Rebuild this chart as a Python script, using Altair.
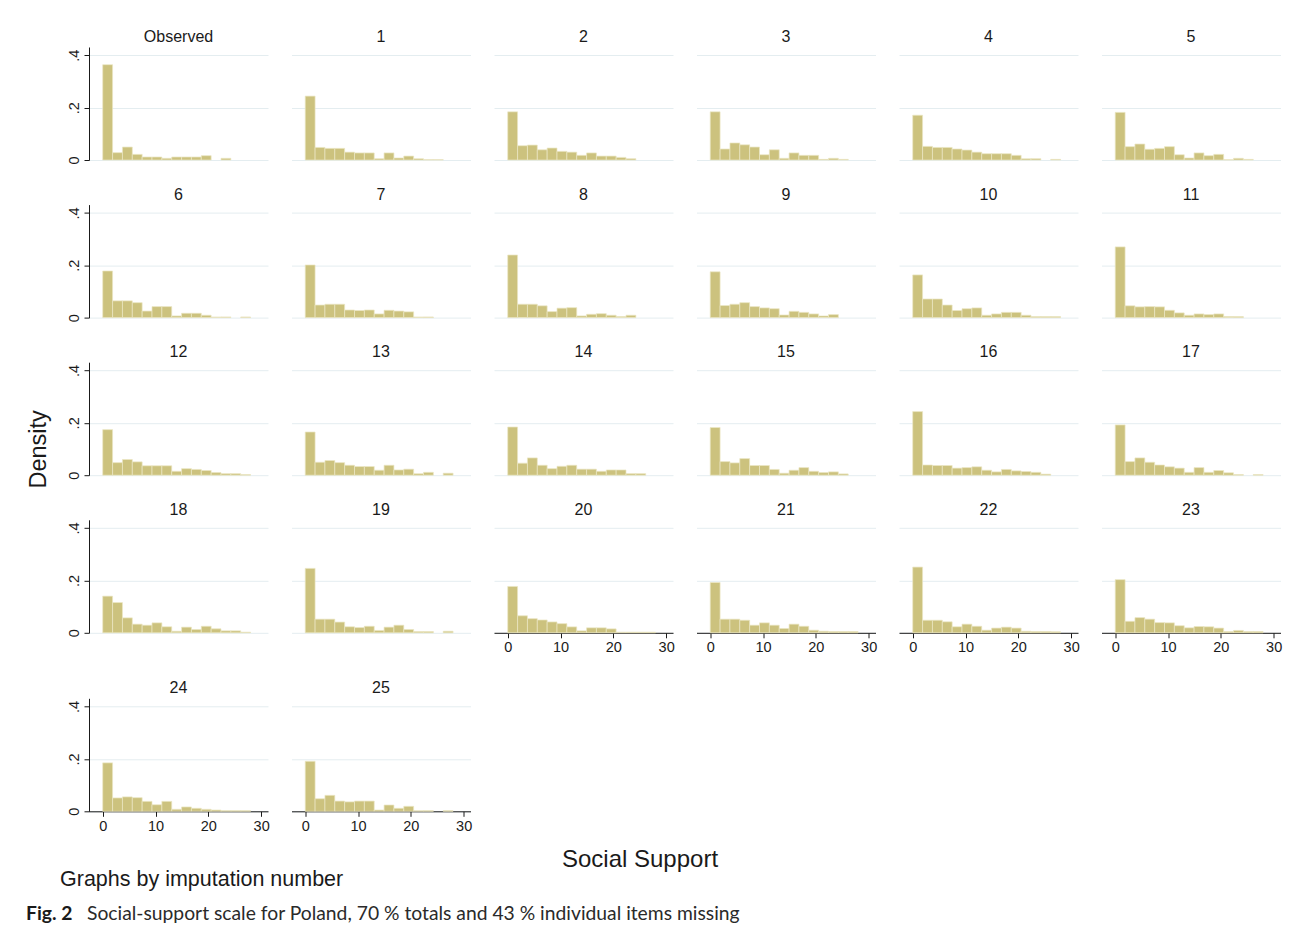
import altair as alt
import pandas as pd

# ---- data: histogram densities per panel (15 bins of width 28/15 from 0 to 28) ----
BIN_WIDTH = 28 / 15

d_obs = [0.364, 0.028, 0.0495, 0.0216, 0.0114, 0.0114, 0.0064, 0.0114, 0.0114, 0.0114, 0.0165, 0, 0.0064, 0, 0]
d_01 = [0.244, 0.048, 0.0445, 0.0445, 0.030, 0.027, 0.027, 0.005, 0.027, 0.0076, 0.015, 0.005, 0.0013, 0.0013, 0]
d_02 = [0.184, 0.0546, 0.057, 0.039, 0.0457, 0.033, 0.030, 0.0178, 0.027, 0.015, 0.015, 0.010, 0.005, 0, 0]
d_03 = [0.184, 0.042, 0.065, 0.058, 0.0495, 0.020, 0.039, 0.0064, 0.027, 0.0178, 0.0178, 0.0025, 0.0064, 0.0025, 0]
d_04 = [0.171, 0.052, 0.048, 0.048, 0.042, 0.038, 0.030, 0.024, 0.024, 0.024, 0.0178, 0.005, 0.005, 0, 0.0025]
d_05 = [0.182, 0.051, 0.061, 0.041, 0.0445, 0.051, 0.020, 0.0076, 0.027, 0.0165, 0.0216, 0.0013, 0.0064, 0.0025, 0]
d_06 = [0.178, 0.064, 0.064, 0.057, 0.025, 0.042, 0.042, 0.0064, 0.0166, 0.0166, 0.009, 0.0025, 0.0025, 0, 0.0025]
d_07 = [0.201, 0.048, 0.051, 0.051, 0.029, 0.027, 0.029, 0.014, 0.028, 0.025, 0.022, 0.0025, 0.0025, 0, 0]
d_08 = [0.239, 0.051, 0.051, 0.045, 0.023, 0.036, 0.038, 0.0064, 0.0127, 0.015, 0.009, 0.004, 0.009, 0, 0]
d_09 = [0.175, 0.046, 0.051, 0.057, 0.042, 0.037, 0.034, 0.010, 0.024, 0.020, 0.014, 0.0064, 0.0115, 0, 0]
d_10 = [0.163, 0.071, 0.071, 0.048, 0.027, 0.034, 0.037, 0.009, 0.014, 0.020, 0.020, 0.009, 0.004, 0.004, 0.004]
d_11 = [0.270, 0.045, 0.041, 0.042, 0.041, 0.028, 0.018, 0.009, 0.014, 0.0115, 0.014, 0.004, 0.004, 0, 0]
d_12 = [0.174, 0.048, 0.060, 0.051, 0.036, 0.036, 0.036, 0.015, 0.025, 0.022, 0.018, 0.010, 0.006, 0.006, 0.0025]
d_13 = [0.165, 0.0495, 0.056, 0.048, 0.038, 0.033, 0.033, 0.019, 0.038, 0.020, 0.023, 0.006, 0.011, 0, 0.0076]
d_14 = [0.184, 0.046, 0.066, 0.038, 0.025, 0.034, 0.038, 0.023, 0.023, 0.015, 0.020, 0.020, 0.006, 0.006, 0]
d_15 = [0.182, 0.052, 0.047, 0.0635, 0.037, 0.037, 0.022, 0.0076, 0.019, 0.029, 0.015, 0.010, 0.0127, 0.005, 0]
d_16 = [0.243, 0.039, 0.037, 0.037, 0.027, 0.029, 0.032, 0.019, 0.0127, 0.022, 0.0165, 0.014, 0.011, 0.004, 0]
d_17 = [0.192, 0.052, 0.066, 0.0495, 0.039, 0.032, 0.027, 0.011, 0.029, 0.011, 0.018, 0.009, 0.0025, 0, 0.0025]
d_18 = [0.140, 0.1155, 0.057, 0.033, 0.029, 0.038, 0.023, 0.006, 0.0216, 0.0127, 0.025, 0.015, 0.0076, 0.0076, 0.0025]
d_19 = [0.246, 0.052, 0.052, 0.041, 0.023, 0.020, 0.025, 0.009, 0.0216, 0.029, 0.0127, 0.005, 0.005, 0, 0.006]
d_20 = [0.177, 0.065, 0.054, 0.049, 0.0415, 0.035, 0.0226, 0.0075, 0.019, 0.019, 0.015, 0.0025, 0.0025, 0.0025, 0.0025]
d_21 = [0.192, 0.052, 0.052, 0.048, 0.029, 0.038, 0.029, 0.0165, 0.033, 0.025, 0.010, 0.006, 0.005, 0.005, 0.005]
d_22 = [0.251, 0.048, 0.048, 0.042, 0.023, 0.033, 0.025, 0.010, 0.018, 0.0216, 0.018, 0.006, 0.005, 0.005, 0.004]
d_23 = [0.203, 0.044, 0.058, 0.052, 0.039, 0.038, 0.027, 0.019, 0.024, 0.023, 0.018, 0.005, 0.009, 0.005, 0.005]
d_24 = [0.185, 0.051, 0.055, 0.052, 0.038, 0.025, 0.038, 0.0076, 0.0166, 0.0115, 0.0076, 0.005, 0.0025, 0.0025, 0.0025]
d_25 = [0.191, 0.048, 0.061, 0.039, 0.036, 0.039, 0.039, 0.005, 0.024, 0.0115, 0.019, 0.0025, 0.0025, 0, 0.0025]

panel_labels = ["Observed"] + [str(i) for i in range(1, 26)]
panel_values = [d_obs, d_01, d_02, d_03, d_04, d_05, d_06, d_07, d_08, d_09, d_10,
                d_11, d_12, d_13, d_14, d_15, d_16, d_17, d_18, d_19, d_20,
                d_21, d_22, d_23, d_24, d_25]

x_ticks = [0, 10, 20, 30]
y_ticks = [0, 0.2, 0.4]

records = []
for lab, vals in zip(panel_labels, panel_values):
    for i, v in enumerate(vals):
        if v > 0:
            records.append({"panel": lab, "x0": i * BIN_WIDTH, "x1": (i + 1) * BIN_WIDTH,
                            "base": 0.0, "density": v})
df = pd.DataFrame(records)

# ---- styling ----
FONT = "Liberation Sans"
TEXT = "#1a1a1a"
GRID = "#e4edf0"
FILL = "#ccc27e"
EDGE = "#ebe6c4"
W, H = 179, 113
XDOM = [-2.6, 31.3]
YDOM = [0, 0.4316]

Y_LABEL_EXPR = "datum.value == 0 ? '0' : '.' + round(datum.value * 10)"


def make_panel(lab, col, show_x, density_visible):
    if col == 0:
        y_axis = alt.Axis(values=y_ticks, grid=True, gridColor=GRID, gridWidth=1,
                          domain=True, domainColor=TEXT, domainWidth=1,
                          ticks=True, tickColor=TEXT, tickSize=5, tickWidth=1,
                          labels=True, labelExpr=Y_LABEL_EXPR, labelAngle=270,
                          labelFont=FONT, labelFontSize=14.5, labelColor=TEXT,
                          labelPadding=3, labelAlign="center", labelBaseline="bottom",
                          title="Density", titleFont=FONT, titleFontSize=23.5,
                          titleFontWeight="normal", titleColor=TEXT,
                          titleOpacity=1 if density_visible else 0,
                          titleAngle=270, titleAlign="center", titleBaseline="middle",
                          titleX=-51, titleY=86.6)
    else:
        y_axis = alt.Axis(values=y_ticks, grid=True, gridColor=GRID, gridWidth=1,
                          domain=False, ticks=False, labels=False, title=None)
    if show_x:
        x_axis = alt.Axis(values=x_ticks, grid=False, domain=True, domainColor=TEXT,
                          domainWidth=1, ticks=True, tickColor=TEXT, tickSize=5,
                          tickWidth=1, labelFont=FONT, labelFontSize=14.5,
                          labelColor=TEXT, labelPadding=3, title=None)
    else:
        x_axis = None
    return (
        alt.Chart(df[df["panel"] == lab])
        .mark_rect(color=FILL, stroke=EDGE, strokeWidth=0.7)
        .encode(
            x=alt.X("x0:Q", scale=alt.Scale(domain=XDOM, nice=False, zero=False), axis=x_axis),
            x2="x1:Q",
            y=alt.Y("density:Q", scale=alt.Scale(domain=YDOM, nice=False), axis=y_axis),
            y2="base:Q",
        )
        .properties(
            width=W, height=H,
            title=alt.TitleParams(lab, font=FONT, fontSize=16, fontWeight="normal",
                                  color=TEXT, anchor="middle", baseline="bottom", offset=-14),
        )
    )


row_groups = [panel_labels[0:6], panel_labels[6:12], panel_labels[12:18],
              panel_labels[18:24], panel_labels[24:26]]
rows = []
for r, labs in enumerate(row_groups):
    panels = []
    for c, lab in enumerate(labs):
        show_x = (r == 3 and c >= 2) or r == 4
        panels.append(make_panel(lab, c, show_x, density_visible=(r == 2)))
    rows.append(alt.hconcat(*panels, spacing=23.5, bounds="flush"))

upper = alt.vconcat(rows[0], rows[1], rows[2], rows[3], spacing=13.6)
grid = alt.vconcat(upper, rows[4], spacing=25.3)

footer_df = pd.DataFrame({"t": ["x"]})
base_f = alt.Chart(footer_df)
f_title = base_f.mark_text(text="Social Support", font=FONT, fontSize=24, color=TEXT,
                           align="center", baseline="middle").encode(
    x=alt.value(551), y=alt.value(20.5))
f_by = base_f.mark_text(text="Graphs by imputation number", font=FONT, fontSize=21.5,
                        color=TEXT, align="left", baseline="middle").encode(
    x=alt.value(-29), y=alt.value(40.5))
f_fig = base_f.mark_text(text="Fig. 2", font="Lato", fontSize=19.3, fontWeight="bold",
                         color="#1a1a1a", align="left", baseline="middle").encode(
    x=alt.value(-63), y=alt.value(74.5))
f_cap = base_f.mark_text(text="Social-support scale for Poland, 70 % totals and 43 % individual items missing",
                         font="Lato", fontSize=19.3, color="#2a2a2a", align="left",
                         baseline="middle").encode(
    x=alt.value(-2), y=alt.value(74.5))
footer = alt.layer(f_title, f_by, f_fig, f_cap).properties(width=1150, height=82)

chart = (
    alt.vconcat(grid, footer, spacing=6)
    .properties(padding={"left": 18, "top": 21, "right": 2, "bottom": 0}, background="white")
    .configure_view(stroke=None)
)

chart.save("out.html", embed_options={"renderer": "svg", "actions": False})
